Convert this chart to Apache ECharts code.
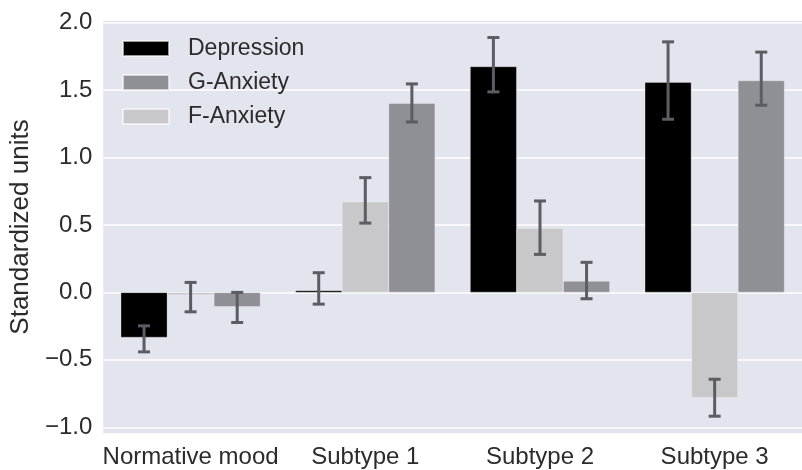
<!DOCTYPE html>
<html>
<head>
<meta charset="utf-8">
<script src="https://cdn.jsdelivr.net/npm/echarts@6/dist/echarts.min.js"></script>
<style>html,body{margin:0;padding:0;background:#fff}#c{width:802px;height:470px}</style>
</head>
<body>
<div id="c"></div>
<script>
const categories = ['Normative mood', 'Subtype 1', 'Subtype 2', 'Subtype 3'];
const depression = [-0.334, 0.01, 1.675, 1.559];
const fAnxiety = [-0.02, 0.673, 0.475, -0.782];
const gAnxiety = [-0.107, 1.403, 0.084, 1.571];
const depressionLow = [-0.441, -0.087, 1.487, 1.284];
const depressionHigh = [-0.248, 0.146, 1.89, 1.858];
const fAnxietyLow = [-0.144, 0.514, 0.282, -0.918];
const fAnxietyHigh = [0.074, 0.851, 0.678, -0.644];
const gAnxietyLow = [-0.223, 1.264, -0.047, 1.388];
const gAnxietyHigh = [0.0, 1.546, 0.223, 1.782];
const legendOrder = ['Depression', 'G-Anxiety', 'F-Anxiety'];

const FONT = 'Liberation Sans, Arial, Helvetica, sans-serif';
const TXT = '#2b2b2b';
const colors = {Depression: '#000000', 'F-Anxiety': '#c8c7ca', 'G-Anxiety': '#8f9095'};

function errSeries(name, idx, lows, highs) {
  return {
    type: 'custom',
    name: name + ' err',
    z: 5,
    silent: true,
    data: categories.map((c, i) => [i, lows[i], highs[i]]),
    renderItem: function (params, api) {
      const catW = api.size([1, 0])[0];
      const bw = catW * 0.8 / 3;
      const base = api.coord([api.value(0), 0]);
      const x = base[0] + (idx - 1) * bw;
      const lo = api.coord([api.value(0), api.value(1)])[1];
      const hi = api.coord([api.value(0), api.value(2)])[1];
      const st = {stroke: '#5a5d62', lineWidth: 3};
      const cap = 6;
      return {
        type: 'group',
        children: [
          {type: 'line', shape: {x1: x, y1: lo, x2: x, y2: hi}, style: st},
          {type: 'line', shape: {x1: x - cap, y1: lo, x2: x + cap, y2: lo}, style: st},
          {type: 'line', shape: {x1: x - cap, y1: hi, x2: x + cap, y2: hi}, style: st}
        ]
      };
    }
  };
}

function barSeries(name, values) {
  return {
    type: 'bar',
    name: name,
    data: values,
    barGap: '0%',
    barCategoryGap: '20%',
    barMinHeight: 2,
    itemStyle: {color: colors[name], borderColor: 'rgba(255,255,255,0.6)', borderWidth: 0.5},
    z: 3
  };
}

const chart = echarts.init(document.getElementById('c'), null, {renderer: 'canvas'});
chart.setOption({
  animation: false,
  backgroundColor: '#ffffff',
  textStyle: {fontFamily: FONT},
  grid: {left: 101, top: 20, right: -14, bottom: 36, show: true, backgroundColor: '#e2e4ee', borderWidth: 0},
  legend: {
    data: legendOrder,
    orient: 'vertical',
    left: 122,
    top: 37,
    padding: 0,
    icon: 'rect',
    itemWidth: 46,
    itemHeight: 15,
    itemGap: 11,
    textStyle: {fontSize: 23, color: TXT, fontFamily: FONT, padding: [0, 0, 0, 14], lineHeight: 22}
  },
  xAxis: {
    type: 'category',
    data: categories,
    axisLine: {show: false},
    axisTick: {show: false},
    splitLine: {show: false},
    axisLabel: {fontSize: 24, color: TXT, fontFamily: FONT, margin: 11, interval: 0}
  },
  yAxis: {
    type: 'value',
    min: -1.05,
    max: 2.02,
    splitNumber: 6,
    axisLine: {show: false},
    axisTick: {show: false},
    splitLine: {show: true, lineStyle: {color: '#ffffff', width: 1.5}},
    axisLabel: {
      fontSize: 24, color: TXT, fontFamily: FONT, margin: 11,
      showMinLabel: false, showMaxLabel: false,
      formatter: v => (v < 0 ? '\u2212' + Math.abs(v).toFixed(1) : v.toFixed(1))
    },
    name: 'Standardized units',
    nameLocation: 'middle',
    nameGap: 62,
    nameTextStyle: {fontSize: 26, color: TXT, fontFamily: FONT}
  },
  series: [
    barSeries('Depression', depression),
    barSeries('F-Anxiety', fAnxiety),
    barSeries('G-Anxiety', gAnxiety),
    errSeries('Depression', 0, depressionLow, depressionHigh),
    errSeries('F-Anxiety', 1, fAnxietyLow, fAnxietyHigh),
    errSeries('G-Anxiety', 2, gAnxietyLow, gAnxietyHigh)
  ]
});
</script>
</body>
</html>
